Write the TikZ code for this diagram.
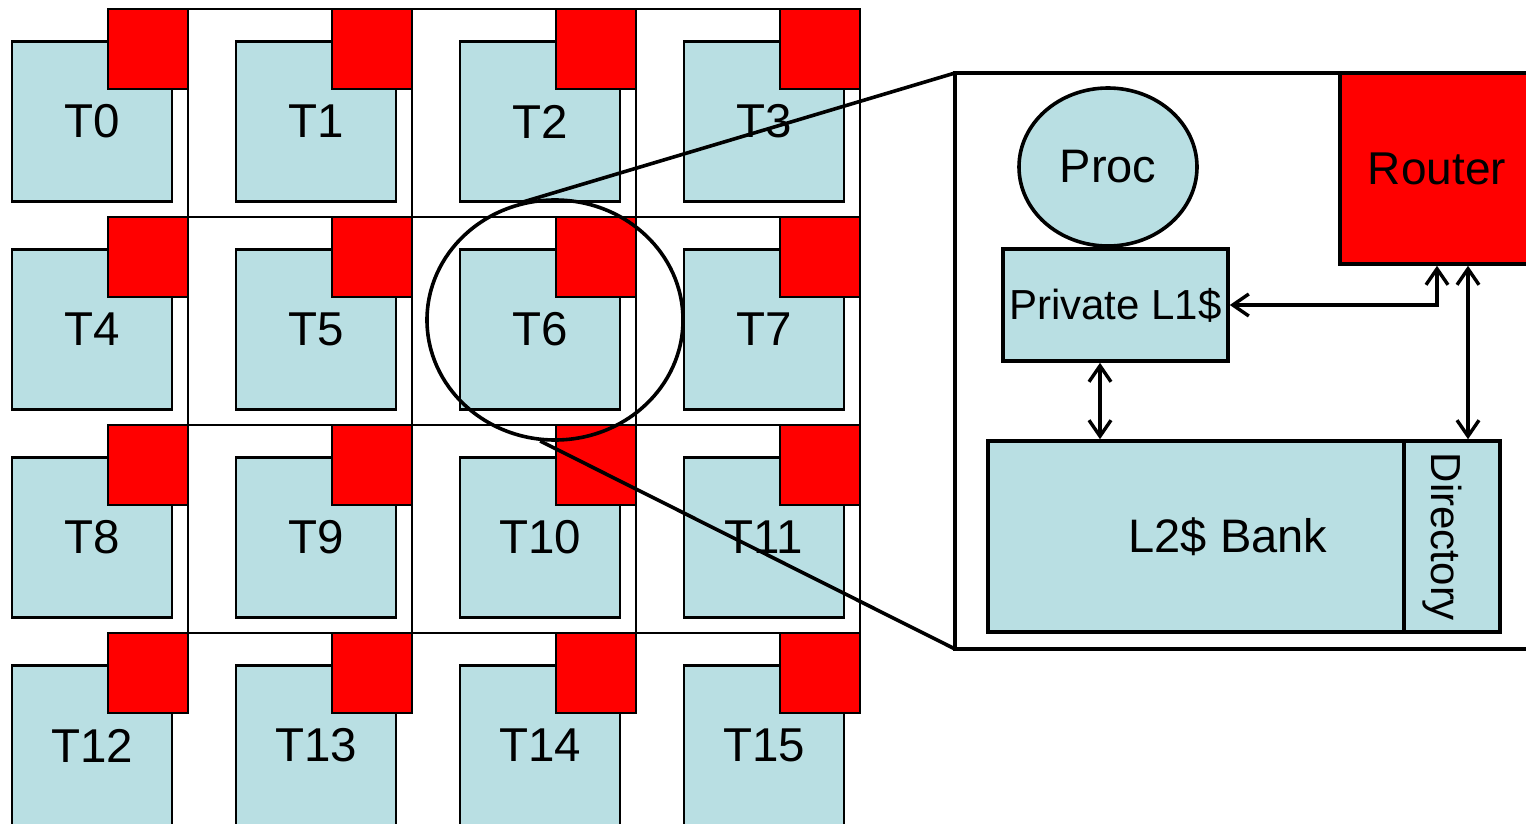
\documentclass[tikz,border=0pt]{standalone}
\usepackage{fontspec}
\setmainfont{Liberation Sans}
\usetikzlibrary{arrows.meta,shapes.geometric,calc}
\definecolor{tileblue}{RGB}{185,223,227}
\definecolor{rtred}{RGB}{255,0,0}
\begin{document}
\begin{tikzpicture}[x=1pt,y=-1pt,
  tile/.style={draw, line width=2.2pt, fill=tileblue, minimum width=160pt, minimum height=160pt, inner sep=0pt, font=\fontsize{47.5}{50}\selectfont},
  rtr/.style={draw, line width=2.2pt, fill=rtred, minimum size=80pt, inner sep=0pt, outer sep=0pt},
  mesh/.style={line width=2.2pt},
  bold/.style={line width=3.6pt},
  bluebox/.style={draw, line width=3.6pt, fill=tileblue, inner sep=0pt},
  dbl/.style={line width=3.4pt, {Straight Barb[length=16pt,width=22pt]}-{Straight Barb[length=16pt,width=22pt]}}]
\useasboundingbox (0,0) rectangle (1526,824);
\clip (0,0) rectangle (1526,824);
% tiles and routers
\foreach \i in {0,...,3} {
  \foreach \j in {0,...,3} {
    \pgfmathtruncatemacro{\n}{4*\i+\j}
    \node[tile] (t\n) at ({92+224*\j},{121.5+208*\i}) {T\n};
    \node[rtr] (r\n) at ({148+224*\j},{49+208*\i}) {};
  }
}
% mesh links
\foreach \k in {0,...,3} {
  \pgfmathtruncatemacro{\a}{4*\k}
  \pgfmathtruncatemacro{\b}{4*\k+3}
  \pgfmathtruncatemacro{\c}{12+\k}
  \draw[mesh] (r\a.north east) -- (r\b.north east);
  \draw[mesh] (r\k.north east) -- (r\c.north east);
}
% zoom ellipse and panel
\node[ellipse, draw, line width=3.6pt, minimum width=256pt, minimum height=240pt, inner sep=0pt] (zoom) at (555,320) {};
\node[draw, line width=3.6pt, minimum width=600pt, minimum height=576pt, inner sep=0pt, outer sep=0pt, anchor=north west] (panel) at (955,73) {};
\draw[bold] (zoom.105) -- (panel.north west);
\draw[bold] (zoom.263) -- (panel.south west);
% panel contents
\node[ellipse, bluebox, minimum width=178pt, minimum height=158pt, font=\fontsize{47}{50}\selectfont] (proc) at (1108,167) {Proc};
\node[bluebox, minimum width=225pt, minimum height=112pt, font=\fontsize{42}{46}\selectfont] (l1) at (1115.5,305) {Private L1\$};
\node[draw, line width=3.6pt, fill=rtred, inner sep=0pt, minimum width=194pt, minimum height=191pt, font=\fontsize{46}{50}\selectfont] (router) at (1437,168.5) {Router};
\node[bluebox, minimum width=416pt, minimum height=191pt] (bank) at (1196,536.5) {};
\node[font=\fontsize{47}{50}\selectfont] (banktext) at (1228,537) {L2\$ Bank};
\node[bluebox, minimum width=96pt, minimum height=191pt] (dir) at (1452,536.5) {};
\node[rotate=-90, anchor=base, font=\fontsize{42}{46}\selectfont, inner sep=0pt] (dirtext) at (1431,537) {Directory};
% arrows
\draw[dbl] (l1.east) -| (router.south);
\draw[dbl] ([xshift=31pt]router.south) -- ([xshift=31pt]router.south |- dir.north);
\draw[dbl] ([xshift=-15.5pt]l1.south) -- ([xshift=-15.5pt]l1.south |- bank.north);
\end{tikzpicture}
\end{document}
